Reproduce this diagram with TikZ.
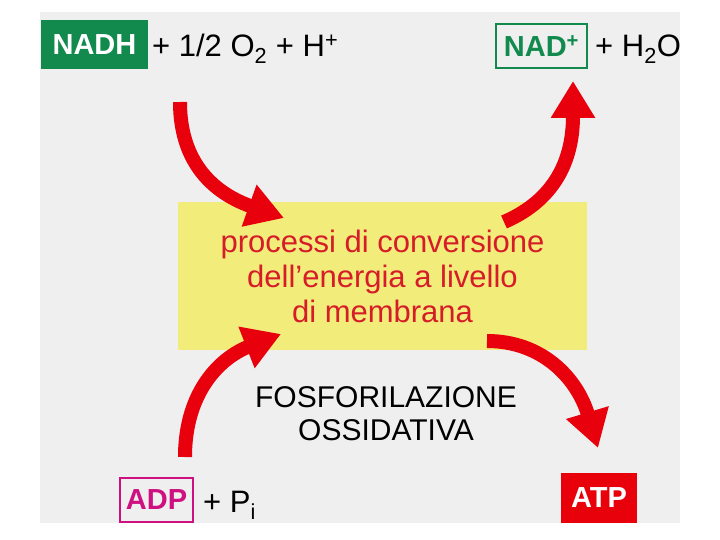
\documentclass[tikz,border=0pt]{standalone}
\usepackage{fontspec}
\setmainfont{Liberation Sans}
\usetikzlibrary{arrows.meta}
\definecolor{panelgrey}{RGB}{239,239,239}
\definecolor{nadgreen}{RGB}{18,138,78}
\definecolor{adpmag}{RGB}{206,16,128}
\definecolor{atpred}{RGB}{232,0,10}
\definecolor{arrred}{RGB}{232,0,12}
\definecolor{boxyellow}{RGB}{242,236,122}
\definecolor{txtred}{RGB}{214,28,40}
\tikzset{
  fatarrow/.style={draw=arrred, line width=14pt,
    -{Triangle[width=42pt,length=37pt]}, fill=none},
  bigtxt/.style={inner sep=0pt, font=\fontsize{31}{33}\selectfont},
  tagbox/.style={inner sep=0pt, font=\fontsize{29}{33}\selectfont\bfseries}
}
\begin{document}
\begin{tikzpicture}[x=1pt,y=-1pt]
\useasboundingbox (0,0) rectangle (720,540);
\fill[white] (0,0) rectangle (720,540);
\fill[panelgrey] (40,12) rectangle (680,523);

% central yellow box
\node[fill=boxyellow, minimum width=409pt, minimum height=148pt, inner sep=0pt] (proc) at (382.5,276) {};
\node[inner sep=0pt, align=center, text=txtred, font=\fontsize{31}{35}\selectfont, anchor=base] (proctxt) at (382.5,322)
  {processi di conversione\\dell’energia a livello\\di membrana};

\node[bigtxt, font=\fontsize{30}{33}\selectfont, align=center, anchor=base] (fosf) at (386,440) {FOSFORILAZIONE\\OSSIDATIVA};

% top left
\node[tagbox, fill=nadgreen, text=white, minimum width=107pt, minimum height=49pt] (nadh) at (94.5,44.5) {NADH};
\node[bigtxt, anchor=base west] (react) at (152,57) {+ 1/2 O\textsubscript{2} + H\textsuperscript{+}};

% top right
\node[tagbox, draw=nadgreen, line width=2.6pt, text=nadgreen, minimum width=91pt, minimum height=44pt] (nad) at (541.5,46) {NAD\textsuperscript{+}};
\node[bigtxt, anchor=base west] (water) at (595,57) {+ H\textsubscript{2}O};

% bottom left
\node[tagbox, draw=adpmag, line width=2.6pt, text=adpmag, minimum width=73pt, minimum height=44pt] (adp) at (156.5,500) {ADP};
\node[bigtxt, anchor=base west] (pi) at (203,512) {+ P\textsubscript{i}};

% bottom right
\node[tagbox, fill=atpred, text=white, minimum width=76pt, minimum height=50pt] (atp) at (599,498) {ATP};

% arrows
\coordinate (a1s) at (180,102);
\coordinate (a1e) at (284,218);
\draw[fatarrow] (a1s) .. controls (180,170) and (222,196) .. (a1e);

\coordinate (a2s) at (504,222);
\coordinate (a2e) at (573,81);
\draw[fatarrow] (a2s) .. controls (548,203) and (573,168) .. (a2e);

\coordinate (a3s) at (185,457);
\coordinate (a3e) at (281,334);
\draw[fatarrow] (a3s) .. controls (185,390) and (222,357) .. (a3e);

\coordinate (a4s) at (487,341);
\coordinate (a4e) at (598,448);
\draw[fatarrow] (a4s) .. controls (542,341) and (577,378) .. (a4e);
\end{tikzpicture}
\end{document}
